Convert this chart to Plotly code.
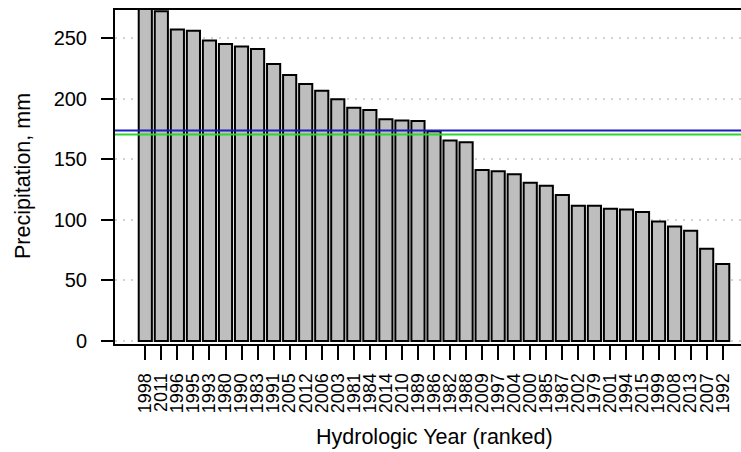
import plotly.graph_objects as go

years = ["1998", "2011", "1996", "1995", "1993", "1980", "1990", "1983", "1991", "2005",
         "2012", "2006", "2003", "1981", "1984", "2014", "2010", "1989", "1986", "1982",
         "1988", "2009", "1997", "2004", "2000", "1985", "1987", "2002", "1979", "2001",
         "1994", "2015", "1999", "2008", "2013", "2007", "1992"]
precip = [290, 272, 257, 256, 248, 245, 243, 241, 228.5, 219.5,
          212, 206.5, 199.5, 192.5, 190.5, 183, 182, 181.5, 173, 165.5,
          164, 141, 140, 137.5, 130.5, 128, 120.5, 111.5, 111.5, 109,
          108.5, 106.5, 98.5, 94.5, 91, 76, 63.5]
y_ticks = [0, 50, 100, 150, 200, 250]
mean_line = 173.6
median_line = 170.3

FONT = "Liberation Sans, Arial, Helvetica, sans-serif"

fig = go.Figure()
fig.add_trace(go.Bar(
    x=years, y=precip,
    marker=dict(color="#bebebe", line=dict(color="black", width=2)),
    showlegend=False,
))

fig.add_shape(type="line", xref="paper", x0=0, x1=1, yref="y", y0=mean_line, y1=mean_line,
              line=dict(color="#1c1cc0", width=2), layer="above")
fig.add_shape(type="line", xref="paper", x0=0, x1=1, yref="y", y0=median_line, y1=median_line,
              line=dict(color="#2ed62e", width=2), layer="above")

fig.update_layout(
    width=741, height=452,
    margin=dict(l=115, r=0, t=10, b=108),
    paper_bgcolor="white", plot_bgcolor="white",
    bargap=0.18,
    font=dict(family=FONT, color="black"),
    xaxis=dict(
        type="category",
        range=[-1.889, 37.14],
        tickmode="array", tickvals=years, ticktext=years,
        showline=True, linecolor="black", linewidth=2, mirror=True,
        ticks="outside", ticklen=14, tickwidth=2, tickcolor="black",
        tickangle=-90, tickfont=dict(size=18, family=FONT, color="black"),
        ticklabelstandoff=6,
        showgrid=False, zeroline=False,
    ),
    yaxis=dict(
        range=[-2.5, 273.1],
        tickvals=y_ticks, ticktext=[str(v) for v in y_ticks],
        showline=True, linecolor="black", linewidth=2, mirror=False,
        ticks="outside", ticklen=12, tickwidth=2, tickcolor="black",
        tickfont=dict(size=20, family=FONT, color="black"),
        ticklabelstandoff=10,
        showgrid=True, gridcolor="#d3d3d3", griddash="2px,6px", gridwidth=2,
        zeroline=False,
        layer="above traces",
    ),
    annotations=[
        dict(text="Hydrologic Year (ranked)", xref="paper", yref="paper",
             x=(434 - 115) / 626, y=(344 - 437) / 334, xanchor="center", yanchor="middle",
             showarrow=False, font=dict(size=21.5, family=FONT, color="black")),
        dict(text="Precipitation, mm", xref="paper", yref="paper",
             x=(23 - 115) / 626, y=(344 - 176) / 334, xanchor="center", yanchor="middle",
             textangle=-90, showarrow=False, font=dict(size=21.5, family=FONT, color="black")),
    ],
)

fig.write_html("out.html")
